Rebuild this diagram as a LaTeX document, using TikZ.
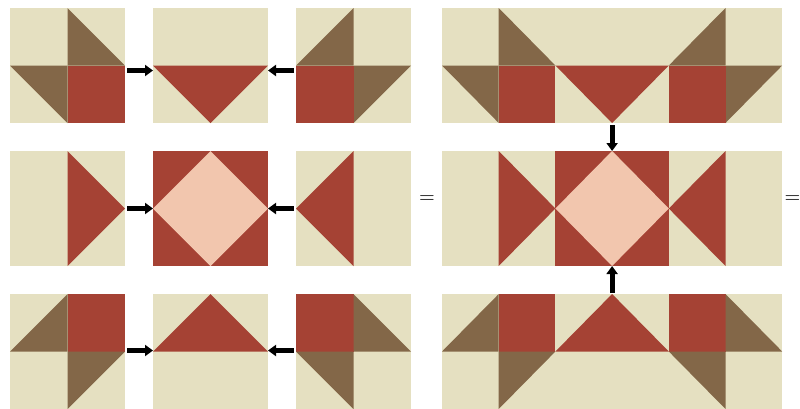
\documentclass[tikz,border=0pt]{standalone}
\usepackage{tikz}
\usetikzlibrary{arrows.meta,positioning}
\definecolor{qcream}{RGB}{229,224,193}
\definecolor{qbrown}{RGB}{131,103,72}
\definecolor{qred}{RGB}{165,66,52}
\definecolor{qpink}{RGB}{242,198,174}
\tikzset{
  blk/.style={rectangle, fill=qcream, minimum width=115pt, minimum height=115pt, inner sep=0pt, outer sep=0pt},
  cblk/.style={blk, minimum width=113.4pt},
  fatarrow/.style={-{Triangle[length=8pt,width=11pt]}, line width=5pt, black},
  eqsign/.style={font=\fontsize{18}{18}\selectfont\bfseries, text=black!80, inner sep=0pt}
}

\begin{document}
\begin{tikzpicture}[x=1pt, y=-1pt, node distance=28pt]
\useasboundingbox (0,0) rectangle (800,408);
\fill[white] (0,0) rectangle (800,408);
% separate blocks
\node[blk] (a1) at (67.5,65.5) {};
\node[blk, right=of a1] (b1) {};
\node[blk, right=of b1] (c1) {};
\node[blk, below=of a1] (a2) {};
\node[blk, right=of a2] (b2) {};
\node[blk, right=of b2] (c2) {};
\node[blk, below=of a2] (a3) {};
\node[blk, right=of a3] (b3) {};
\node[blk, right=of b3] (c3) {};
% sewn rows
\node[cblk, right=31pt of c1] (r1a) {};
\node[cblk, right=0pt of r1a] (r1b) {};
\node[cblk, right=0pt of r1b] (r1c) {};
\node[cblk, right=31pt of c2] (r2a) {};
\node[cblk, right=0pt of r2a] (r2b) {};
\node[cblk, right=0pt of r2b] (r2c) {};
\node[cblk, right=31pt of c3] (r3a) {};
\node[cblk, right=0pt of r3a] (r3b) {};
\node[cblk, right=0pt of r3b] (r3c) {};
% top row
\foreach \q in {a1,r1a} {
  \fill[qbrown] (\q.north) -- (\q.center) -- (\q.east) -- cycle;
  \fill[qbrown] (\q.west) -- (\q.center) -- (\q.south) -- cycle;
  \fill[qred] (\q.center) rectangle (\q.south east);
}
\foreach \q in {b1,r1b}
  \fill[qred] (\q.west) -- (\q.east) -- (\q.south) -- cycle;
\foreach \q in {c1,r1c} {
  \fill[qbrown] (\q.north) -- (\q.west) -- (\q.center) -- cycle;
  \fill[qbrown] (\q.center) -- (\q.east) -- (\q.south) -- cycle;
  \fill[qred] (\q.center) rectangle (\q.south west);
}
% middle row
\foreach \q in {a2,r2a}
  \fill[qred] (\q.north) -- (\q.east) -- (\q.south) -- cycle;
\foreach \q in {b2,r2b} {
  \fill[qred] (\q.north west) rectangle (\q.south east);
  \fill[qpink] (\q.north) -- (\q.east) -- (\q.south) -- (\q.west) -- cycle;
}
\foreach \q in {c2,r2c}
  \fill[qred] (\q.north) -- (\q.west) -- (\q.south) -- cycle;
% bottom row
\foreach \q in {a3,r3a} {
  \fill[qbrown] (\q.west) -- (\q.north) -- (\q.center) -- cycle;
  \fill[qred] (\q.center) rectangle (\q.north east);
  \fill[qbrown] (\q.center) -- (\q.east) -- (\q.south) -- cycle;
}
\foreach \q in {b3,r3b}
  \fill[qred] (\q.west) -- (\q.east) -- (\q.north) -- cycle;
\foreach \q in {c3,r3c} {
  \fill[qred] (\q.center) rectangle (\q.north west);
  \fill[qbrown] (\q.north) -- (\q.center) -- (\q.east) -- cycle;
  \fill[qbrown] (\q.west) -- (\q.center) -- (\q.south) -- cycle;
}
% arrows
\draw[fatarrow] ([xshift=2pt,yshift=-5pt]a1.east) -- ([yshift=-5pt]b1.west);
\draw[fatarrow] ([xshift=-2pt,yshift=-5pt]c1.west) -- ([yshift=-5pt]b1.east);
\draw[fatarrow] ([xshift=2pt]a2.east) -- (b2.west);
\draw[fatarrow] ([xshift=-2pt]c2.west) -- (b2.east);
\draw[fatarrow] ([xshift=2pt,yshift=1pt]a3.east) -- ([yshift=1pt]b3.west);
\draw[fatarrow] ([xshift=-2pt,yshift=1pt]c3.west) -- ([yshift=1pt]b3.east);
\draw[fatarrow] ([yshift=-2pt]r1b.south) -- (r2b.north);
\draw[fatarrow] ([yshift=1pt]r3b.north) -- (r2b.south);
% equals
\node[eqsign] (eq1) at (427,199) {=};
\node[eqsign] (eq2) at (792.5,199) {=};
\end{tikzpicture}
\end{document}
